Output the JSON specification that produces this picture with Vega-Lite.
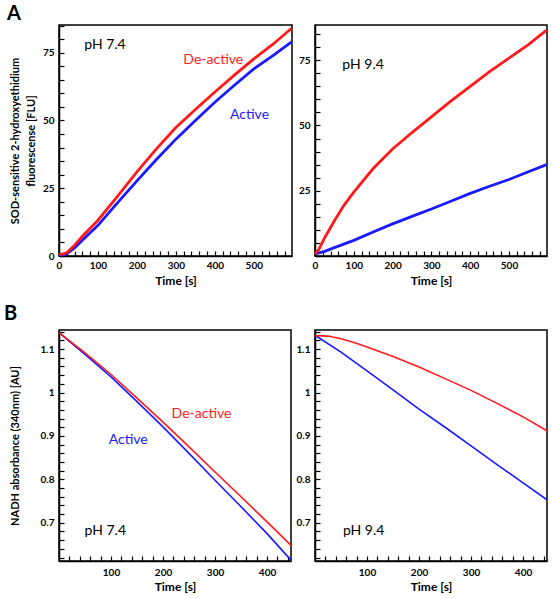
{
  "$schema": "https://vega.github.io/schema/vega-lite/v6.json",
  "background": "white",
  "padding": {"left": 3, "top": 2, "right": 5, "bottom": 1},
  "bounds": "flush",
  "columns": 2,
  "spacing": {"row": 74, "column": 23},
  "config": {
    "view": {"stroke": "black", "strokeWidth": 1.5},
    "axis": {
      "grid": false,
      "ticks": true,
      "tickSize": -5,
      "domainColor": "black",
      "domainWidth": 1.5,
      "tickColor": "black",
      "tickWidth": 1.2,
      "labelFont": "Lato",
      "labelFontWeight": "bold",
      "labelFontSize": 10,
      "labelColor": "black",
      "labelFlush": false,
      "labelOverlap": false,
      "labelBound": false,
      "titleFont": "Lato",
      "titleFontWeight": "bold",
      "titleFontSize": 12,
      "titleColor": "black"
    },
    "title": {"font": "Lato", "fontWeight": "bold", "fontSize": 20, "color": "black"}
  },
  "datasets": {
    "a74": [
      {"t": 0, "v": 0.5, "s": "Active"}, {"t": 10, "v": 0.3, "s": "Active"}, {"t": 20, "v": 0.8, "s": "Active"}, {"t": 40, "v": 3, "s": "Active"}, {"t": 60, "v": 5.8, "s": "Active"}, {"t": 80, "v": 8.6, "s": "Active"}, {"t": 100, "v": 11.3, "s": "Active"}, {"t": 150, "v": 19.6, "s": "Active"}, {"t": 200, "v": 27.7, "s": "Active"}, {"t": 250, "v": 35.6, "s": "Active"}, {"t": 300, "v": 43.1, "s": "Active"}, {"t": 350, "v": 50, "s": "Active"}, {"t": 400, "v": 56.7, "s": "Active"}, {"t": 450, "v": 63, "s": "Active"}, {"t": 500, "v": 69, "s": "Active"}, {"t": 550, "v": 74, "s": "Active"}, {"t": 597, "v": 79, "s": "Active"},
      {"t": 0, "v": 0.5, "s": "De-active"}, {"t": 10, "v": 0.8, "s": "De-active"}, {"t": 20, "v": 1.2, "s": "De-active"}, {"t": 40, "v": 4, "s": "De-active"}, {"t": 60, "v": 7.3, "s": "De-active"}, {"t": 80, "v": 10.2, "s": "De-active"}, {"t": 100, "v": 13.2, "s": "De-active"}, {"t": 150, "v": 22, "s": "De-active"}, {"t": 200, "v": 31, "s": "De-active"}, {"t": 250, "v": 39.5, "s": "De-active"}, {"t": 300, "v": 47.4, "s": "De-active"}, {"t": 350, "v": 54, "s": "De-active"}, {"t": 400, "v": 60.5, "s": "De-active"}, {"t": 450, "v": 66.7, "s": "De-active"}, {"t": 500, "v": 72.7, "s": "De-active"}, {"t": 550, "v": 78.2, "s": "De-active"}, {"t": 597, "v": 84, "s": "De-active"}
    ],
    "a94": [
      {"t": 0, "v": 0.8, "s": "Active"}, {"t": 25, "v": 1.8, "s": "Active"}, {"t": 50, "v": 3.2, "s": "Active"}, {"t": 100, "v": 6, "s": "Active"}, {"t": 150, "v": 9.2, "s": "Active"}, {"t": 200, "v": 12.3, "s": "Active"}, {"t": 250, "v": 15.2, "s": "Active"}, {"t": 300, "v": 18, "s": "Active"}, {"t": 350, "v": 21, "s": "Active"}, {"t": 400, "v": 24, "s": "Active"}, {"t": 450, "v": 26.7, "s": "Active"}, {"t": 500, "v": 29.3, "s": "Active"}, {"t": 550, "v": 32.3, "s": "Active"}, {"t": 597, "v": 35, "s": "Active"},
      {"t": 0, "v": 0.8, "s": "De-active"}, {"t": 10, "v": 2.5, "s": "De-active"}, {"t": 25, "v": 7, "s": "De-active"}, {"t": 50, "v": 13.5, "s": "De-active"}, {"t": 75, "v": 19.5, "s": "De-active"}, {"t": 100, "v": 24.5, "s": "De-active"}, {"t": 150, "v": 33.5, "s": "De-active"}, {"t": 200, "v": 41, "s": "De-active"}, {"t": 250, "v": 47.3, "s": "De-active"}, {"t": 300, "v": 53.3, "s": "De-active"}, {"t": 350, "v": 59.3, "s": "De-active"}, {"t": 400, "v": 65, "s": "De-active"}, {"t": 450, "v": 70.6, "s": "De-active"}, {"t": 500, "v": 75.8, "s": "De-active"}, {"t": 550, "v": 81, "s": "De-active"}, {"t": 597, "v": 86.5, "s": "De-active"}
    ],
    "b74": [
      {"t": 0, "v": 1.138, "s": "Active"}, {"t": 50, "v": 1.088, "s": "Active"}, {"t": 100, "v": 1.036, "s": "Active"}, {"t": 150, "v": 0.979, "s": "Active"}, {"t": 200, "v": 0.921, "s": "Active"}, {"t": 250, "v": 0.86, "s": "Active"}, {"t": 300, "v": 0.798, "s": "Active"}, {"t": 350, "v": 0.737, "s": "Active"}, {"t": 400, "v": 0.675, "s": "Active"}, {"t": 446, "v": 0.614, "s": "Active"},
      {"t": 0, "v": 1.138, "s": "De-active"}, {"t": 50, "v": 1.0915, "s": "De-active"}, {"t": 100, "v": 1.0415, "s": "De-active"}, {"t": 150, "v": 0.987, "s": "De-active"}, {"t": 200, "v": 0.932, "s": "De-active"}, {"t": 250, "v": 0.875, "s": "De-active"}, {"t": 300, "v": 0.817, "s": "De-active"}, {"t": 350, "v": 0.76, "s": "De-active"}, {"t": 400, "v": 0.702, "s": "De-active"}, {"t": 446, "v": 0.648, "s": "De-active"}
    ],
    "b94": [
      {"t": 0, "v": 1.132, "s": "Active"}, {"t": 50, "v": 1.093, "s": "Active"}, {"t": 100, "v": 1.05, "s": "Active"}, {"t": 150, "v": 1.006, "s": "Active"}, {"t": 200, "v": 0.962, "s": "Active"}, {"t": 250, "v": 0.92, "s": "Active"}, {"t": 300, "v": 0.877, "s": "Active"}, {"t": 350, "v": 0.834, "s": "Active"}, {"t": 400, "v": 0.792, "s": "Active"}, {"t": 446, "v": 0.753, "s": "Active"},
      {"t": 0, "v": 1.131, "s": "De-active"}, {"t": 25, "v": 1.13, "s": "De-active"}, {"t": 50, "v": 1.124, "s": "De-active"}, {"t": 75, "v": 1.115, "s": "De-active"}, {"t": 100, "v": 1.105, "s": "De-active"}, {"t": 150, "v": 1.083, "s": "De-active"}, {"t": 200, "v": 1.059, "s": "De-active"}, {"t": 250, "v": 1.032, "s": "De-active"}, {"t": 300, "v": 1.005, "s": "De-active"}, {"t": 350, "v": 0.975, "s": "De-active"}, {"t": 400, "v": 0.944, "s": "De-active"}, {"t": 446, "v": 0.912, "s": "De-active"}
    ]
  },
  "concat": [
    {
      "width": 233, "height": 231,
      "title": {"text": "A", "anchor": "start", "frame": "group", "dx": -52, "offset": -3},
      "data": {"name": "a74"},
      "encoding": {
        "x": {"field": "t", "type": "quantitative", "scale": {"domain": [0, 598], "nice": false, "zero": false},
          "axis": {"title": "Time [s]", "values": [0,20,40,60,80,100,120,140,160,180,200,220,240,260,280,300,320,340,360,380,400,420,440,460,480,500,520,540,560,580],
            "labelExpr": "datum.value % 100 === 0 ? datum.label : ''",
            "encode": {"ticks": {"update": {"y2": {"signal": "datum.value % 100 === 0 ? -7 : -4"}}}},
            "labelPadding": 9, "titlePadding": 5}},
        "y": {"field": "v", "type": "quantitative", "scale": {"domain": [0, 85.2], "nice": false, "zero": false},
          "axis": {"title": ["SOD-sensitive 2-hydroxyethidium", "fluorescense [FLU]"], "titleFontSize": 11, "titleLineHeight": 16,
            "values": [0,5,10,15,20,25,30,35,40,45,50,55,60,65,70,75,80,85],
            "labelExpr": "datum.value % 25 === 0 ? datum.label : ''",
            "encode": {"ticks": {"update": {"x2": {"signal": "datum.value % 25 === 0 ? 7 : 4"}}}},
            "labelPadding": 10, "titlePadding": 6}}
      },
      "layer": [
        {"mark": {"type": "line", "strokeWidth": 2.8},
         "encoding": {"color": {"field": "s", "type": "nominal", "scale": {"domain": ["Active", "De-active", "pH"], "range": ["#1a1aff", "#ff1a1a", "black"]}, "legend": null}}},
        {"data": {"values": [{"label": "pH 7.4", "s": "pH", "tx": 118, "vy": 78}, {"label": "De-active", "s": "De-active", "tx": 396, "vy": 72.4}, {"label": "Active", "s": "Active", "tx": 489, "vy": 52}]},
         "mark": {"type": "text", "font": "Lato", "fontSize": 14, "align": "center", "baseline": "middle"},
         "encoding": {"x": {"field": "tx", "type": "quantitative"}, "y": {"field": "vy", "type": "quantitative"}, "text": {"field": "label"},
           "color": {"field": "s", "type": "nominal", "legend": null}}}
      ]
    },
    {
      "width": 232, "height": 231,
      "data": {"name": "a94"},
      "encoding": {
        "x": {"field": "t", "type": "quantitative", "scale": {"domain": [0, 598], "nice": false, "zero": false},
          "axis": {"title": "Time [s]", "values": [0,20,40,60,80,100,120,140,160,180,200,220,240,260,280,300,320,340,360,380,400,420,440,460,480,500,520,540,560,580],
            "labelExpr": "datum.value % 100 === 0 ? datum.label : ''",
            "encode": {"ticks": {"update": {"y2": {"signal": "datum.value % 100 === 0 ? -7 : -4"}}}},
            "labelPadding": 9, "titlePadding": 5}},
        "y": {"field": "v", "type": "quantitative", "scale": {"domain": [0, 88.5], "nice": false, "zero": false},
          "axis": {"title": null,
            "values": [0,5,10,15,20,25,30,35,40,45,50,55,60,65,70,75,80,85],
            "labelExpr": "datum.value % 25 === 0 && datum.value > 0 ? datum.label : ''",
            "encode": {"ticks": {"update": {"x2": {"signal": "datum.value % 25 === 0 ? 7 : 4"}}}},
            "labelPadding": 10}}
      },
      "layer": [
        {"mark": {"type": "line", "strokeWidth": 2.8},
         "encoding": {"color": {"field": "s", "type": "nominal", "scale": {"domain": ["Active", "De-active", "pH"], "range": ["#1a1aff", "#ff1a1a", "black"]}, "legend": null}}},
        {"data": {"values": [{"label": "pH 9.4", "s": "pH", "tx": 124, "vy": 73}]},
         "mark": {"type": "text", "font": "Lato", "fontSize": 14, "align": "center", "baseline": "middle"},
         "encoding": {"x": {"field": "tx", "type": "quantitative"}, "y": {"field": "vy", "type": "quantitative"}, "text": {"field": "label"},
           "color": {"field": "s", "type": "nominal", "legend": null}}}
      ]
    },
    {
      "width": 232, "height": 231,
      "title": {"text": "B", "anchor": "start", "frame": "group", "dx": -55, "offset": 3},
      "data": {"name": "b74"},
      "encoding": {
        "x": {"field": "t", "type": "quantitative", "scale": {"domain": [0, 446], "nice": false, "zero": false},
          "axis": {"title": "Time [s]", "values": [20,40,60,80,100,120,140,160,180,200,220,240,260,280,300,320,340,360,380,400,420,440],
            "labelExpr": "datum.value % 100 === 0 ? datum.label : ''",
            "encode": {"ticks": {"update": {"y2": {"signal": "datum.value % 100 === 0 ? -7 : -4"}}}},
            "labelPadding": 11, "titlePadding": 4}},
        "y": {"field": "v", "type": "quantitative", "scale": {"domain": [0.612, 1.144], "nice": false, "zero": false},
          "axis": {"title": "NADH absorbance (340nm) [AU]", "titleFontSize": 11,
            "values": [0.62,0.64,0.66,0.68,0.7,0.72,0.74,0.76,0.78,0.8,0.82,0.84,0.86,0.88,0.9,0.92,0.94,0.96,0.98,1,1.02,1.04,1.06,1.08,1.1,1.12,1.14],
            "labelExpr": "abs(datum.value * 10 - round(datum.value * 10)) < 0.001 ? format(datum.value, '~g') : ''",
            "encode": {"ticks": {"update": {"x2": {"signal": "abs(datum.value * 10 - round(datum.value * 10)) < 0.001 ? 7 : 4"}}}},
            "labelPadding": 10, "titlePadding": 20}}
      },
      "layer": [
        {"mark": {"type": "line", "strokeWidth": 1.6},
         "encoding": {"color": {"field": "s", "type": "nominal", "scale": {"domain": ["Active", "De-active", "pH"], "range": ["#1a1aff", "#ff1a1a", "black"]}, "legend": null}}},
        {"data": {"values": [{"label": "pH 7.4", "s": "pH", "tx": 89, "vy": 0.682}, {"label": "De-active", "s": "De-active", "tx": 274, "vy": 0.9515}, {"label": "Active", "s": "Active", "tx": 133, "vy": 0.8916}]},
         "mark": {"type": "text", "font": "Lato", "fontSize": 14, "align": "center", "baseline": "middle"},
         "encoding": {"x": {"field": "tx", "type": "quantitative"}, "y": {"field": "vy", "type": "quantitative"}, "text": {"field": "label"},
           "color": {"field": "s", "type": "nominal", "legend": null}}}
      ]
    },
    {
      "width": 232, "height": 231,
      "data": {"name": "b94"},
      "encoding": {
        "x": {"field": "t", "type": "quantitative", "scale": {"domain": [0, 446], "nice": false, "zero": false},
          "axis": {"title": "Time [s]", "values": [20,40,60,80,100,120,140,160,180,200,220,240,260,280,300,320,340,360,380,400,420,440],
            "labelExpr": "datum.value % 100 === 0 ? datum.label : ''",
            "encode": {"ticks": {"update": {"y2": {"signal": "datum.value % 100 === 0 ? -7 : -4"}}}},
            "labelPadding": 11, "titlePadding": 4}},
        "y": {"field": "v", "type": "quantitative", "scale": {"domain": [0.612, 1.144], "nice": false, "zero": false},
          "axis": {"title": null,
            "values": [0.62,0.64,0.66,0.68,0.7,0.72,0.74,0.76,0.78,0.8,0.82,0.84,0.86,0.88,0.9,0.92,0.94,0.96,0.98,1,1.02,1.04,1.06,1.08,1.1,1.12,1.14],
            "labelExpr": "abs(datum.value * 10 - round(datum.value * 10)) < 0.001 ? format(datum.value, '~g') : ''",
            "encode": {"ticks": {"update": {"x2": {"signal": "abs(datum.value * 10 - round(datum.value * 10)) < 0.001 ? 7 : 4"}}}},
            "labelPadding": 10}}
      },
      "layer": [
        {"mark": {"type": "line", "strokeWidth": 1.6},
         "encoding": {"color": {"field": "s", "type": "nominal", "scale": {"domain": ["Active", "De-active", "pH"], "range": ["#1a1aff", "#ff1a1a", "black"]}, "legend": null}}},
        {"data": {"values": [{"label": "pH 9.4", "s": "pH", "tx": 93.5, "vy": 0.682}]},
         "mark": {"type": "text", "font": "Lato", "fontSize": 14, "align": "center", "baseline": "middle"},
         "encoding": {"x": {"field": "tx", "type": "quantitative"}, "y": {"field": "vy", "type": "quantitative"}, "text": {"field": "label"},
           "color": {"field": "s", "type": "nominal", "legend": null}}}
      ]
    }
  ]
}
